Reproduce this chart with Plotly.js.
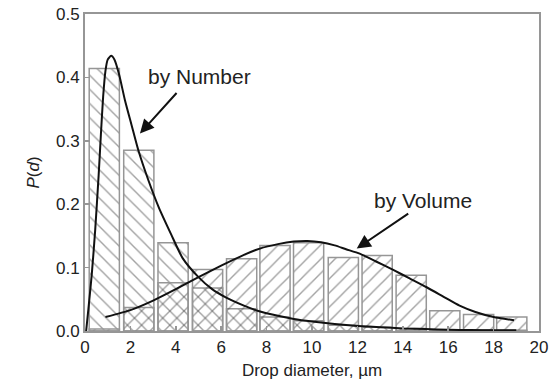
<!DOCTYPE html>
<html>
<head>
<meta charset="utf-8">
<script src="https://cdn.plot.ly/plotly-3.0.1.min.js"></script>
<style>html,body{margin:0;padding:0;background:#fff;}#chart{width:557px;height:381px;}</style>
</head>
<body>
<div id="chart"></div>
<script>
// Bin centres (µm) of the histogram bars
const binCenters = [0.85, 2.37, 3.88, 5.4, 6.9, 8.37, 9.85, 11.38, 12.87, 14.37, 15.85, 17.34, 18.8];
// Histogram heights
const numberBars = [0.414, 0.285, 0.139, 0.068, 0.035, 0.022, 0.016, 0.009, 0.006, 0.004, 0.002, 0.002, 0.001];
const volumeBars = [0.003, 0.037, 0.076, 0.097, 0.114, 0.135, 0.139, 0.116, 0.119, 0.088, 0.032, 0.026, 0.022];
// Fitted curves
const numberCurveX = [0.05, 0.15, 0.3, 0.45, 0.6, 0.7, 0.8, 0.9, 1.0, 1.15, 1.3, 1.5, 1.76, 2.05, 2.35, 2.8, 3.25, 3.8, 4.3, 5.0, 5.6, 6.2, 7.0, 7.6, 8.5, 9.2, 10, 11, 12, 13, 14, 15, 16, 17, 18, 19];
const numberCurveY = [0.0, 0.035, 0.09, 0.16, 0.245, 0.31, 0.37, 0.41, 0.428, 0.434, 0.428, 0.405, 0.364, 0.325, 0.285, 0.237, 0.195, 0.152, 0.115, 0.085, 0.066, 0.053, 0.04, 0.032, 0.024, 0.019, 0.015, 0.011, 0.008, 0.006, 0.004, 0.003, 0.002, 0.0015, 0.001, 0.001];
const volumeCurveX = [0.9, 2, 3, 4, 5, 6, 7, 7.7, 8.5, 9.2, 9.8, 10.4, 11, 11.5, 12.1, 12.8, 13.6, 14.3, 15.05, 15.8, 16.5, 17.2, 18, 18.9];
const volumeCurveY = [0.022, 0.033, 0.048, 0.066, 0.085, 0.103, 0.12, 0.13, 0.137, 0.141, 0.142, 0.140, 0.135, 0.129, 0.122, 0.11, 0.096, 0.083, 0.069, 0.054, 0.040, 0.03, 0.022, 0.017];
// Axis ticks
const xTicks = [0, 2, 4, 6, 8, 10, 12, 14, 16, 18, 20];
const yTicks = [0.0, 0.1, 0.2, 0.3, 0.4, 0.5];

const gray = 'rgb(150,150,150)';
const hatch = 'rgb(70,70,70)';
const font = 'Liberation Sans, Arial, sans-serif';

const traces = [
  {
    type: 'bar', x: binCenters, y: numberBars, width: 1.33,
    marker: {color: 'rgba(0,0,0,0)', line: {color: gray, width: 1.5},
      pattern: {shape: '\\', fgcolor: hatch, bgcolor: 'rgba(0,0,0,0)', size: 10, solidity: 0.14, fillmode: 'overlay'}},
    showlegend: false, hoverinfo: 'skip'
  },
  {
    type: 'bar', x: binCenters, y: volumeBars, width: 1.33,
    marker: {color: 'rgba(0,0,0,0)', line: {color: gray, width: 1.5},
      pattern: {shape: '/', fgcolor: hatch, bgcolor: 'rgba(0,0,0,0)', size: 10, solidity: 0.14, fillmode: 'overlay'}},
    showlegend: false, hoverinfo: 'skip'
  },
  {
    type: 'scatter', mode: 'lines', x: numberCurveX, y: numberCurveY,
    line: {color: '#111', width: 2, shape: 'spline', smoothing: 0.6}, showlegend: false, hoverinfo: 'skip'
  },
  {
    type: 'scatter', mode: 'lines', x: volumeCurveX, y: volumeCurveY,
    line: {color: '#111', width: 2, shape: 'spline', smoothing: 0.6}, showlegend: false, hoverinfo: 'skip'
  }
];

const layout = {
  width: 557, height: 381,
  margin: {l: 85, r: 18, t: 14, b: 50},
  paper_bgcolor: '#fff', plot_bgcolor: '#fff',
  barmode: 'overlay',
  font: {family: font, size: 17, color: '#222'},
  xaxis: {
    range: [0, 20], tickvals: xTicks, ticktext: xTicks.map(String),
    showgrid: false, zeroline: false,
    showline: true, linecolor: gray, linewidth: 2, mirror: true,
    ticks: 'inside', ticklen: 5, tickcolor: gray, tickwidth: 1.5,
    tickfont: {family: font, size: 17, color: '#222'},
    title: {text: 'Drop diameter, µm', font: {family: font, size: 17, color: '#222'}, standoff: 8}
  },
  yaxis: {
    range: [0, 0.5], tickvals: yTicks, ticktext: yTicks.map(v => v.toFixed(1)),
    showgrid: false, zeroline: false,
    showline: true, linecolor: gray, linewidth: 2, mirror: true,
    ticks: 'inside', ticklen: 5, tickcolor: gray, tickwidth: 1.5,
    tickfont: {family: font, size: 17, color: '#222'},
    title: {text: '<i>P</i>(<i>d</i>)', font: {family: font, size: 17, color: '#222'}, standoff: 12}
  },
  annotations: [
    {xref: 'x', yref: 'y', x: 5.04, y: 0.402, text: 'by Number', showarrow: false,
      font: {family: font, size: 21, color: '#222'}},
    {xref: 'x', yref: 'y', x: 14.89, y: 0.206, text: 'by Volume', showarrow: false,
      font: {family: font, size: 21, color: '#222'}},
    {xref: 'x', yref: 'y', x: 2.42, y: 0.3115, text: '', showarrow: true,
      ax: 38, ay: -42, arrowhead: 2, arrowsize: 1.4, arrowwidth: 2, arrowcolor: '#111', standoff: 0},
    {xref: 'x', yref: 'y', x: 11.97, y: 0.13, text: '', showarrow: true,
      ax: 53, ay: -36, arrowhead: 2, arrowsize: 1.4, arrowwidth: 2, arrowcolor: '#111', standoff: 0}
  ]
};

Plotly.newPlot('chart', traces, layout, {staticPlot: true, displayModeBar: false});
</script>
</body>
</html>
